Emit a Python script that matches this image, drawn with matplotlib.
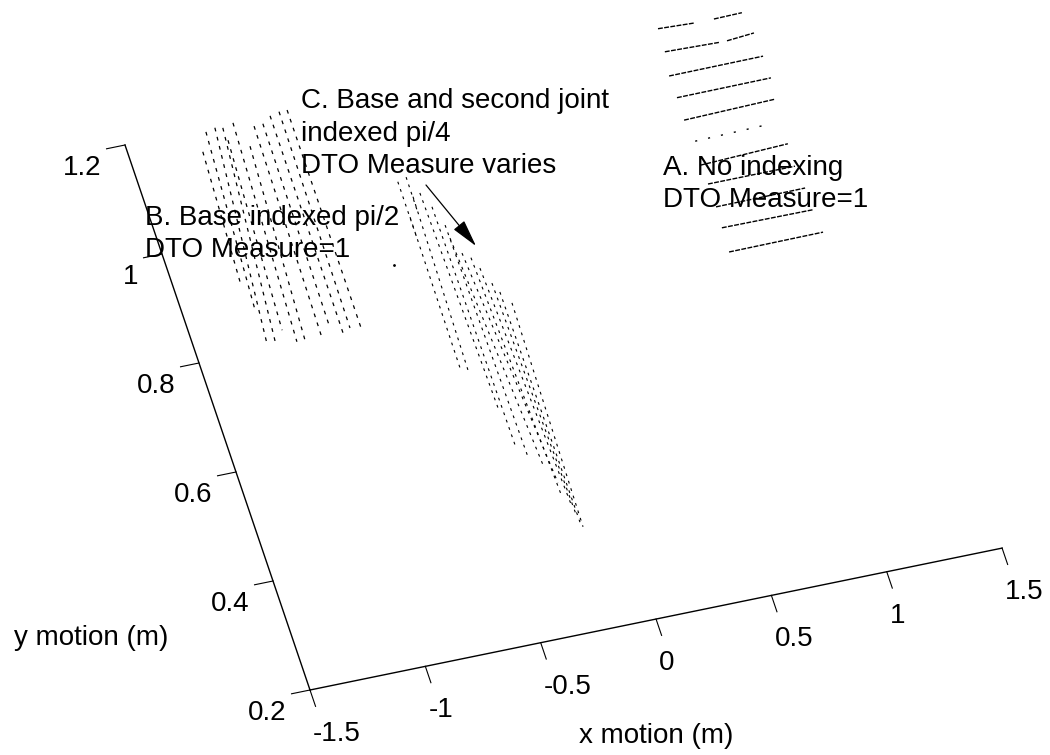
import matplotlib.pyplot as plt
from matplotlib.transforms import Affine2D

# -----------------------------
# Data (x motion, y motion in m)
# -----------------------------

x_ticks = [-1.5, -1, -0.5, 0, 0.5, 1, 1.5]
x_tick_labels = ["-1.5", "-1", "-0.5", "0", "0.5", "1", "1.5"]
y_ticks = [0.2, 0.4, 0.6, 0.8, 1, 1.2]
y_tick_labels = ["0.2", "0.4", "0.6", "0.8", "1", "1.2"]

# A. No indexing
a_x0 = [0.820, 1.060, 0.816, 1.083, 0.800, 0.802, 0.800, 0.803, 0.809, 0.810, 0.805, 0.801]
a_x1 = [0.978, 1.182, 1.053, 1.203, 1.208, 1.210, 1.197, 1.188, 1.186, 1.197, 1.199, 1.209]
a_y0 = [1.212, 1.209, 1.170, 1.167, 1.127, 1.087, 1.046, 0.963, 0.928, 0.886, 0.848, 0.804]
a_y1 = [1.209, 1.210, 1.167, 1.171, 1.128, 1.088, 1.050, 0.969, 0.928, 0.887, 0.847, 0.805]

# sparse row of A
a_sparse_x = [0.816, 1.129]
a_sparse_y = [1.006, 1.009]

# B. Base indexed pi/2
b_x0 = [-1.194, -1.154, -1.112, -1.080, -1.032, -1.076, -0.995, -0.951, -0.912, -0.872, -0.830, -0.795]
b_x1 = [-1.222, -1.200, -1.198, -1.163, -1.074, -1.118, -1.039, -0.967, -0.921, -0.875, -0.840, -0.795]
b_y0 = [1.161, 1.194, 1.198, 1.195, 1.200, 1.172, 1.154, 1.187, 1.188, 1.199, 1.203, 1.203]
b_y1 = [0.925, 0.871, 0.809, 0.804, 0.802, 0.827, 0.802, 0.800, 0.814, 0.801, 0.807, 0.803]

# C. Base and second joint indexed pi/4
c_x0 = [-0.405, -0.445, -0.444, -0.404, -0.371, -0.341, -0.313, -0.311, -0.283, -0.253, -0.231, -0.203, -0.183, -0.149]
c_x1 = [-0.406, -0.445, -0.449, -0.420, -0.350, -0.332, -0.296, -0.246, -0.210, -0.213, -0.186, -0.180, -0.175, -0.169]
c_y0 = [1.046, 1.041, 0.976, 1.010, 1.014, 0.986, 0.950, 0.926, 0.896, 0.885, 0.864, 0.834, 0.816, 0.793]
c_y1 = [0.986, 0.938, 0.700, 0.688, 0.618, 0.548, 0.523, 0.504, 0.468, 0.443, 0.422, 0.403, 0.393, 0.384]

stray_x = [-0.575]
stray_y = [0.900]

# -----------------------------
# Figure, one axes in pixels
# -----------------------------

plt.rcParams["font.family"] = ["Liberation Sans", "DejaVu Sans"]
plt.rcParams["font.size"] = 20

fig = plt.figure(figsize=(10.5, 7.55), dpi=100)
ax = fig.add_axes([0, 0, 1, 1])
ax.set_xlim(0, 1050)
ax.set_ylim(755, 0)
ax.axis("off")

# the floor plane as the old 3D view shows it
view = Affine2D.from_values(230.7, -47.3, -185, -545, 693.05, 728.05) + ax.transData

# -----------------------------
# Axes lines and ticks
# -----------------------------

ax.plot([x_ticks[0], x_ticks[-1]], [y_ticks[0], y_ticks[0]], color="black", lw=1.0, transform=view)
ax.plot([x_ticks[0], x_ticks[0]], [y_ticks[0], y_ticks[-1]], color="black", lw=1.0, transform=view)

for x, label in zip(x_ticks, x_tick_labels):
    ax.plot([x, x], [y_ticks[0], y_ticks[0] - 0.03], color="black", lw=0.8, transform=view)
    ax.annotate(label, (x, y_ticks[0]), xycoords=view, xytext=(3, -51),
                textcoords="offset pixels", ha="left", va="baseline")

for y, label in zip(y_ticks, y_tick_labels):
    ax.plot([x_ticks[0], x_ticks[0] - 0.08], [y, y], color="black", lw=0.8, transform=view)
    ax.annotate(label, (x_ticks[0], y), xycoords=view, xytext=(-24, -30),
                textcoords="offset pixels", ha="right", va="baseline")

ax.text(14, 645, "y motion (m)", ha="left", va="baseline")
ax.text(579, 743, "x motion (m)", ha="left", va="baseline")

# -----------------------------
# Scan lines
# -----------------------------

for x0, x1, y0, y1 in zip(a_x0, a_x1, a_y0, a_y1):
    ax.plot([x0, x1], [y0, y1], color="black", lw=1.0, ls=(0, (3.5, 1)), transform=view)
ax.plot(a_sparse_x, a_sparse_y, color="black", lw=1.0, ls=(0, (1.5, 8)), transform=view)

for x0, x1, y0, y1 in zip(b_x0, b_x1, b_y0, b_y1):
    ax.plot([x0, x1], [y0, y1], color="black", lw=0.9, ls=(0, (3, 4.5)), transform=view)

for x0, x1, y0, y1 in zip(c_x0, c_x1, c_y0, c_y1):
    ax.plot([x0, x1], [y0, y1], color="black", lw=0.8, ls=(0, (2.5, 4.5)), transform=view)

ax.plot(stray_x, stray_y, ".", color="black", ms=2, transform=view)

# -----------------------------
# Notes
# -----------------------------

ax.text(663, 175, "A. No indexing", ha="left", va="baseline")
ax.text(663, 207, "DTO Measure=1", ha="left", va="baseline")

ax.text(145, 225, "B. Base indexed pi/2", ha="left", va="baseline")
ax.text(145, 257, "DTO Measure=1", ha="left", va="baseline")

ax.text(301, 108, "C. Base and second joint", ha="left", va="baseline")
ax.text(301, 141, "indexed pi/4", ha="left", va="baseline")
ax.text(301, 173, "DTO Measure varies", ha="left", va="baseline")

ax.annotate("", xy=(476, 246), xytext=(426, 185),
            arrowprops=dict(arrowstyle="-|>,head_length=1.0,head_width=0.25", color="black", lw=0.9,
                            mutation_scale=17, shrinkA=0, shrinkB=0))

fig.savefig("out.png", dpi=100)
